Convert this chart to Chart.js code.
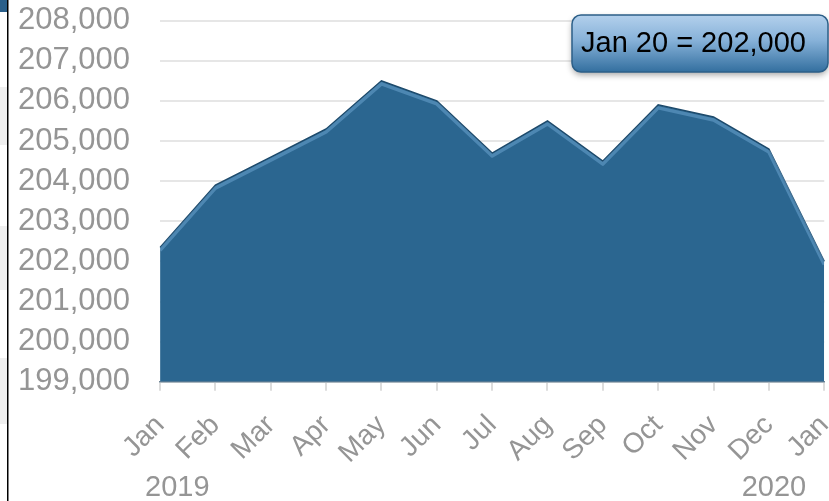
<!DOCTYPE html>
<html>
<head>
<meta charset="utf-8">
<script src="https://cdn.jsdelivr.net/npm/chart.js@4/dist/chart.umd.min.js"></script>
<style>
  html, body { margin: 0; padding: 0; background: #fff; }
  #wrap { width: 829px; height: 501px; position: relative; overflow: hidden; }
  #box { width: 878px; height: 529px; position: absolute; left: -12px; top: -28px; }
</style>
</head>
<body>
<div id="wrap"><div id="box"><canvas id="chart"></canvas></div></div>
<script>
var meses = ["Jan", "Feb", "Mar", "Apr", "May", "Jun", "Jul", "Aug", "Sep", "Oct", "Nov", "Dec", "Jan"];
var valores = [202350, 203900, 204600, 205300, 206500, 206000, 204700, 205500, 204500, 205900, 205600, 204800, 202000];
var anos = ["2019", "2020"];
var anosIndice = [0, 12];
var caixaTexto = "Jan 20 = 202,000";

var fonte = "'Liberation Sans', Arial, sans-serif";
var OX = 12, OY = 28; // deslocamento do canvas dentro da janela

// brilho logo abaixo da borda da area
var brilho = {
    id: 'brilho',
    afterDatasetsDraw: function (chart) {
        var pts = chart.getDatasetMeta(0).data;
        var a = chart.chartArea;
        var ctx = chart.ctx;
        ctx.save();
        ctx.beginPath();
        ctx.rect(a.left, a.top, a.right - a.left, a.bottom - a.top);
        ctx.clip();
        ctx.translate(0, 3);
        ctx.beginPath();
        for (var i = 0; i < pts.length; i++) {
            if (i == 0) ctx.moveTo(pts[i].x, pts[i].y);
            else ctx.lineTo(pts[i].x, pts[i].y);
        }
        ctx.strokeStyle = "rgba(120,175,220,0.45)";
        ctx.lineWidth = 3.5;
        ctx.lineJoin = "round";
        ctx.stroke();
        ctx.restore();
    }
};

// caixa de destaque, anos e borda esquerda
var extras = {
    id: 'extras',
    afterDraw: function (chart) {
        var ctx = chart.ctx;
        var x = chart.scales.x;
        ctx.save();

        // anos embaixo do eixo
        ctx.fillStyle = "#959595";
        ctx.font = "29px " + fonte;
        ctx.textBaseline = "middle";
        ctx.textAlign = "left";
        ctx.fillText(anos[0], x.getPixelForValue(anosIndice[0]) - 15, 488 + OY);
        ctx.textAlign = "right";
        ctx.fillText(anos[1], x.getPixelForValue(anosIndice[1]) - 18, 488 + OY);

        // caixa
        var bx = 572 + OX, by = 15 + OY, bw = 256, bh = 57, r = 9;
        ctx.shadowColor = "rgba(0,0,0,0.35)";
        ctx.shadowBlur = 6;
        ctx.shadowOffsetY = 3;
        var g = ctx.createLinearGradient(0, by, 0, by + bh);
        g.addColorStop(0, "#b3d0ec");
        g.addColorStop(0.45, "#86b1d8");
        g.addColorStop(1, "#336f9f");
        ctx.fillStyle = g;
        ctx.beginPath();
        ctx.roundRect(bx, by, bw, bh, r);
        ctx.fill();
        ctx.shadowColor = "transparent";
        ctx.strokeStyle = "#2c5f88";
        ctx.lineWidth = 1.5;
        ctx.stroke();
        ctx.fillStyle = "#000";
        ctx.font = "29px " + fonte;
        ctx.textAlign = "left";
        ctx.textBaseline = "middle";
        ctx.fillText(caixaTexto, 581 + OX, 44 + OY);

        // resto da tabela cortada a esquerda
        ctx.fillStyle = "#efefef";
        ctx.fillRect(OX, 87 + OY, 7, 58);
        ctx.fillRect(OX, 226 + OY, 7, 64);
        ctx.fillRect(OX, 358 + OY, 7, 66);
        ctx.fillStyle = "#2a5f8a";
        ctx.fillRect(OX, OY, 7, 12);
        ctx.fillStyle = "#000";
        ctx.fillRect(7 + OX, OY, 1.5, 501);
        ctx.restore();
    }
};

var ctx = document.getElementById("chart");

var grafico = new Chart(ctx, {
    type: 'line',
    data: {
        labels: meses,
        datasets: [{
            data: valores,
            fill: 'start',
            backgroundColor: "#2b6690",
            borderColor: "#1d4a6b",
            borderWidth: 1.5,
            pointRadius: 0,
            tension: 0
        }]
    },
    options: {
        responsive: true,
        maintainAspectRatio: false,
        animation: false,
        layout: { padding: { top: 0, right: 5, bottom: 13, left: 0 } },
        plugins: {
            legend: { display: false },
            tooltip: { enabled: false }
        },
        scales: {
            x: {
                offset: false,
                grid: { drawOnChartArea: false, color: "#dcdcdc", tickLength: 9, lineWidth: 2 },
                border: { color: "#6f8596", width: 1.5 },
                ticks: {
                    color: "#959595",
                    font: { size: 28, family: fonte },
                    maxRotation: 45, minRotation: 45,
                    autoSkip: false,
                    padding: 18
                }
            },
            y: {
                min: 199000,
                max: 208000,
                grid: { color: "#e6e6e6", lineWidth: 2, drawTicks: false },
                border: { display: false },
                ticks: {
                    stepSize: 1000,
                    autoSkip: false,
                    color: "#959595",
                    padding: 30,
                    font: { size: 31, family: fonte },
                    callback: function (v) { return v.toLocaleString("en-US"); }
                }
            }
        }
    },
    plugins: [brilho, extras]
});
</script>
</body>
</html>
